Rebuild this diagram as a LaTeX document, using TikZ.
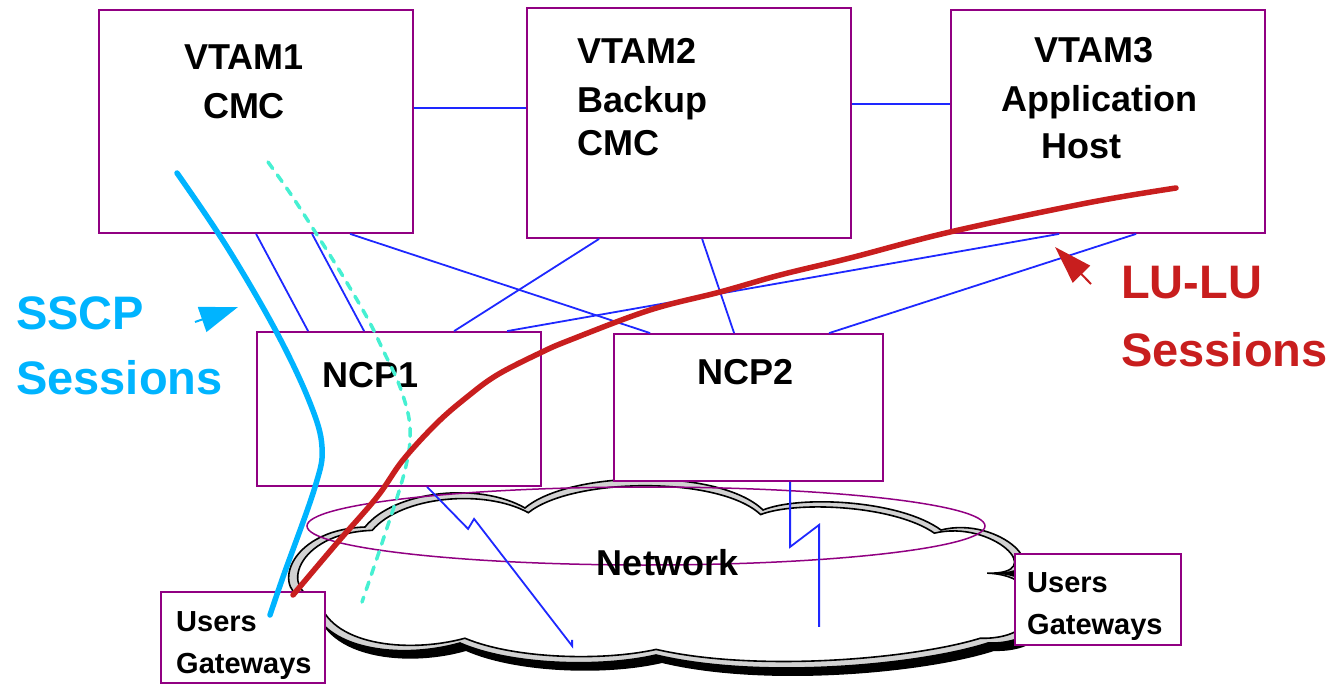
\documentclass[tikz,border=0pt]{standalone}
\usepackage{fontspec}
\setmainfont{Liberation Sans}
\usepackage{xcolor}
\usepackage{tikz}
\usetikzlibrary{arrows.meta, positioning}
\definecolor{NetPurple}{RGB}{145, 0, 130}
\definecolor{LinkBlue}{RGB}{30, 40, 255}
\definecolor{SscpCyan}{RGB}{0, 180, 255}
\definecolor{LuRed}{RGB}{200, 30, 30}
\definecolor{PathAqua}{RGB}{70, 240, 210}
\definecolor{CloudGray}{RGB}{210, 210, 210}

% outline of the network cloud (pixel units, y downwards)
\newcommand{\cloudshape}{(365,527) .. controls (395,490) and (480,482) .. (525,508)
  .. controls (570,470) and (720,468) .. (763,510)
  .. controls (800,495) and (900,500) .. (941,530)
  .. controls (1000,515) and (1060,575) .. (995,573)
  .. controls (1060,575) and (1060,645) .. (988,643)
  .. controls (920,665) and (760,680) .. (656,655)
  .. controls (600,668) and (510,665) .. (460,643)
  .. controls (400,660) and (320,650) .. (310,600)
  .. controls (270,595) and (285,530) .. (365,527) -- cycle}

\tikzset{
  hostbox/.style={draw=NetPurple, line width=1.8pt, fill=white, inner sep=0pt},
  netlink/.style={LinkBlue, line width=1.8pt},
  boxlabel/.style={inner sep=0pt, font=\fontsize{36}{49}\selectfont\bfseries, text=black},
  userlabel/.style={inner sep=0pt, align=left, font=\fontsize{29}{42}\selectfont\bfseries, text=black},
  sessionlabel/.style={inner sep=0pt, align=left, font=\fontsize{47}{65}\selectfont\bfseries},
  sessioncurve/.style={line width=5.5pt, line cap=round, line join=round},
}

\begin{document}
\begin{tikzpicture}[x=1pt,y=-1pt]
  \path[use as bounding box] (0,0) rectangle (1332,684);
  % network cloud
  \fill[black, shift={(6,8)}] \cloudshape;
  \filldraw[fill=CloudGray, draw=black, line width=1.6pt] \cloudshape;
  \begin{scope}[shift={(665,575)}, xscale=0.976, yscale=0.93, shift={(-665,-575)}]
    \filldraw[fill=white, draw=black, line width=1.6pt] \cloudshape;
  \end{scope}
  \draw[NetPurple, line width=1.5pt] (646,526) ellipse [x radius=339pt, y radius=39pt];

  % hosts, controllers, users
  \node[hostbox, minimum width=314pt, minimum height=223pt] (vtam1) at (256,121.5) {};
  \node[hostbox, minimum width=324pt, minimum height=230pt] (vtam2) at (689,123) {};
  \node[hostbox, minimum width=314pt, minimum height=223pt] (vtam3) at (1108,121.5) {};
  \node[hostbox, minimum width=284pt, minimum height=154pt] (ncp1) at (399,409) {};
  \node[hostbox, minimum width=269pt, minimum height=147pt] (ncp2) at (748.5,407.5) {};
  \node[hostbox, minimum width=164pt, minimum height=91pt] (usersA) at (243,637.5) {};
  \node[hostbox, minimum width=166pt, minimum height=91pt] (usersB) at (1098,599.5) {};

  % channel and link lines
  \draw[netlink] ([yshift=13.5pt]vtam1.east) -- ([yshift=15pt]vtam2.west);
  \draw[netlink] ([yshift=19pt]vtam2.east) -- ([yshift=17.5pt]vtam3.west);
  \draw[netlink] ([xshift=158pt]vtam1.south west) -- ([xshift=52pt]ncp1.north west);
  \draw[netlink] ([xshift=214pt]vtam1.south west) -- ([xshift=108pt]ncp1.north west);
  \draw[netlink] ([xshift=252pt]vtam1.south west) -- ([xshift=37pt]ncp2.north west);
  \draw[netlink] ([xshift=73pt]vtam2.south west) -- ([xshift=198pt]ncp1.north west);
  \draw[netlink] ([xshift=176pt]vtam2.south west) -- ([xshift=121pt]ncp2.north west);
  \draw[netlink] ([xshift=251pt]ncp1.north west) -- ([xshift=109pt]vtam3.south west);
  \draw[netlink] ([xshift=216pt]ncp2.north west) -- ([xshift=186pt]vtam3.south west);
  \draw[netlink] ([xshift=171pt]ncp1.south west) -- ++(41,42) -- ++(6,-10) -- ++(98,127) -- ++(0,-6);
  \draw[netlink] ([xshift=177pt]ncp2.south west) -- ++(0,65) -- ++(29,-22) -- ++(0,102);

  % labels
  \node[boxlabel, align=center, anchor=north] (vtam1text) at (244,45) {VTAM1\\CMC};
  \node[boxlabel, align=left, anchor=north west] (vtam2text) at (577,38) {VTAM2\\Backup\\[-6pt]CMC};
  \node[boxlabel, align=center, anchor=north] (vtam3text) at (1099,37) {VTAM3\hspace*{10pt}\\Application\\[-2pt]Host\hspace*{36pt}};
  \node[boxlabel, anchor=north] (ncp1text) at (371,362) {NCP1};
  \node[boxlabel, anchor=north] (ncp2text) at (746,359) {NCP2};
  \node[boxlabel, anchor=north] (nettext) at (668,549) {Network};
  \node[userlabel, anchor=north west] (usersAtext) at (176,611) {Users\\Gateways};
  \node[userlabel, anchor=north west] (usersBtext) at (1027,572) {Users\\Gateways};
  \node[sessionlabel, text=SscpCyan, anchor=north west] (sscp) at (16,296) {SSCP\\Sessions};
  \node[sessionlabel, text=LuRed, anchor=north west] (lulu) at (1121,266) {LU-LU\\[3pt]Sessions};

  % sessions
  \draw[sessioncurve, SscpCyan] plot[smooth, tension=0.6] coordinates {(177,173) (227,247) (277,333) (310,403) (322,447) (315,487) (283,577) (270,615)};
  \draw[PathAqua, line width=3.5pt, line cap=round, dash pattern=on 8pt off 8pt] plot[smooth, tension=0.6] coordinates {(268,162) (290,193) (312,227) (333,260) (353,293) (370,323) (383,350) (400,387) (410,427) (405,470) (383,540) (362,602)};
  \draw[sessioncurve, LuRed] plot[smooth, tension=0.6] coordinates {(293,595) (337,543) (377,497) (403,460) (437,423) (467,397) (497,375) (540,353) (570,340) (650,310) (720,292) (780,275) (850,258) (950,232) (1087,203) (1176,188)};

  \coordinate (sscptail) at (195,322);
  \coordinate (sscptip) at (238,307);
  \draw[SscpCyan, line width=2pt, -{Triangle[length=38pt,width=26pt]}] (sscptail) -- (sscptip);
  \coordinate (lutail) at (1091,284);
  \coordinate (lutip) at (1055,247);
  \draw[LuRed, line width=2pt, -{Triangle[length=38pt,width=24pt]}] (lutail) -- (lutip);
\end{tikzpicture}
\end{document}
